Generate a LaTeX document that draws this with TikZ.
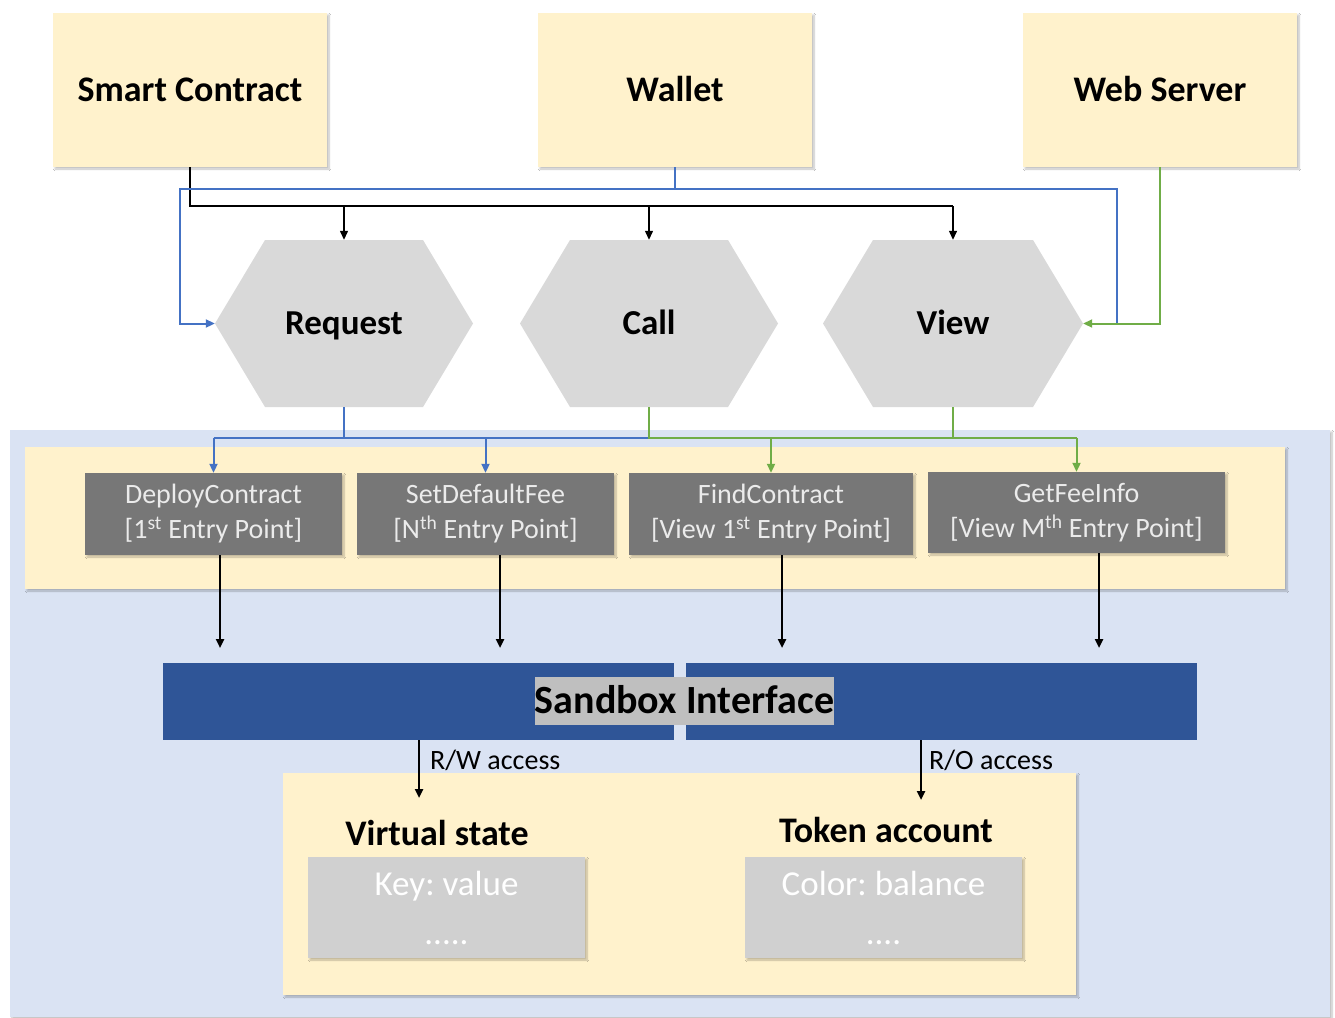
\documentclass[tikz,border=0pt]{standalone}
\usepackage{fontspec}
\setmainfont{Carlito}
\usetikzlibrary{arrows.meta,shadows.blur}

\definecolor{boxyellow}{HTML}{FFF2CC}
\definecolor{sandblue}{HTML}{DAE3F3}
\definecolor{barblue}{HTML}{2F5597}
\definecolor{epgray}{HTML}{777777}
\definecolor{hexgray}{HTML}{D9D9D9}
\definecolor{kvgray}{HTML}{D0D0D0}
\definecolor{lblgray}{HTML}{BFBFBF}
\definecolor{lineblue}{HTML}{4472C4}
\definecolor{linegreen}{HTML}{70AD47}

\tikzset{
  softshadow/.style={blur shadow={shadow xshift=2pt, shadow yshift=-2pt, shadow blur steps=6, shadow opacity=25}},
  client/.style={fill=boxyellow, minimum width=274pt, minimum height=154pt, inner sep=0pt,
    text height=23pt, text depth=0pt,
    softshadow, font=\fontsize{36}{42}\selectfont\bfseries},
  hexa/.style={minimum width=258pt, minimum height=167pt, inner sep=0pt,
    text height=22.4pt, text depth=0pt,
    font=\fontsize{35}{40}\selectfont\bfseries,
    path picture={\fill[hexgray]
      ([xshift=50pt]path picture bounding box.north west) --
      ([xshift=-50pt]path picture bounding box.north east) --
      (path picture bounding box.east) --
      ([xshift=-50pt]path picture bounding box.south east) --
      ([xshift=50pt]path picture bounding box.south west) --
      (path picture bounding box.west) -- cycle;}},
  entrybox/.style={fill=epgray, text=white!92!black, inner sep=0pt, minimum height=82pt,
    align=center, softshadow, font=\fontsize{28}{35}\selectfont},
  panel/.style={fill=boxyellow, inner sep=0pt, softshadow},
  barhalf/.style={fill=barblue, minimum width=511pt, minimum height=77pt, inner sep=0pt},
  storebox/.style={fill=kvgray, minimum width=277pt, minimum height=101pt, inner sep=0pt,
    text=white, align=center, font=\fontsize{35}{49}\selectfont},
  heading/.style={font=\fontsize{36}{42}\selectfont\bfseries},
  access/.style={font=\fontsize{28}{32}\selectfont, anchor=west, inner sep=0pt},
  tip/.style={-{Triangle[width=8pt,length=9pt]}},
  blackline/.style={black, line width=1.3pt},
  blueline/.style={lineblue, line width=2pt},
  greenline/.style={linegreen, line width=2pt},
  downline/.style={black, line width=2.4pt}
}

\begin{document}
\frenchspacing
\begin{tikzpicture}[x=1pt, y=-1pt]
\useasboundingbox (0,0) rectangle (1335,1017);
\fill[white] (0,0) rectangle (1335,1017);

% sandbox region and the entry-point panel
\node[fill=sandblue, minimum width=1320pt, minimum height=587pt, inner sep=0pt, softshadow] (sbx) at (670,723.5) {};
\node[panel, minimum width=1260pt, minimum height=142pt] (eppanel) at (655,518) {};

% clients
\node[client] (sc)  at (190,90)  {Smart Contract};
\node[client] (wal) at (675,90)  {Wallet};
\node[client] (web) at (1160,90) {Web Server};

% call kinds
\node[hexa] (req)  at (344,323.5) {Request};
\node[hexa] (call) at (649,323.5) {Call};
\node[hexa, minimum width=260pt] (view) at (953,323.5) {View};

% entry points
\node[entrybox, minimum width=257pt] (ep1) at (213.5,514) {DeployContract\\{}[1\textsuperscript{st} Entry Point]};
\node[entrybox, minimum width=257pt] (ep2) at (485.5,514) {SetDefaultFee\\{}[N\textsuperscript{th} Entry Point]};
\node[entrybox, minimum width=284pt] (ep3) at (771,514) {FindContract\\{}[View 1\textsuperscript{st} Entry Point]};
\node[entrybox, minimum width=297pt, minimum height=81pt] (ep4) at (1076.5,512.5) {GetFeeInfo\\{}[View M\textsuperscript{th} Entry Point]};

% sandbox interface bar
\node[barhalf] (sbl) at (418.5,701.5) {};
\node[barhalf] (sbr) at (941.5,701.5) {};
\node[fill=lblgray, minimum width=299pt, minimum height=48pt, inner sep=0pt,
      text height=25.6pt, text depth=0pt,
      font=\fontsize{40}{44}\selectfont\bfseries] (sbi) at (684.5,701) {Sandbox Interface};

% state storage
\node[panel, minimum width=793pt, minimum height=222pt] (store) at (679.5,884) {};
\node[heading] (vs) at (437,833) {Virtual state};
\node[heading] (ta) at (886,830) {Token account};
\node[storebox, softshadow] (kv) at (446.5,907.5) {Key: value\\.....};
\node[storebox, softshadow] (cb) at (883.5,907.5) {Color: balance\\....};

% connectors from the clients
\coordinate (blk)   at (0,206);
\coordinate (bluel) at (180,189);
\coordinate (bluer) at (1117,189);
\draw[blackline] (sc.south) |- (view.north |- blk);
\draw[blackline,tip] (req.north |- blk) -- (req.north);
\draw[blackline,tip] (call.north |- blk) -- (call.north);
\draw[blackline,tip] (view.north |- blk) -- (view.north);
\draw[blueline,tip] (wal.south) |- (bluel) |- (req.west);
\draw[blueline] (wal.south |- bluel) -- (bluer) -- (bluer |- view.east);
\draw[greenline,tip] (web.south) |- (view.east);

% connectors into the entry points
\coordinate (mid) at (0,438);
\draw[blueline] (req.south) -- (req.south |- mid);
\draw[blueline] (ep1.north |- mid) -- (call.south |- mid);
\draw[blueline,tip] (ep1.north |- mid) -- (ep1.north);
\draw[blueline,tip] (ep2.north |- mid) -- (ep2.north);
\draw[greenline] (call.south) -- (call.south |- mid) -- (ep4.north |- mid);
\draw[greenline, line width=1.5pt] (view.south) -- (view.south |- mid);
\draw[greenline,tip] (ep3.north |- mid) -- (ep3.north);
\draw[greenline,tip] (ep4.north |- mid) -- (ep4.north);

% entry points down to the sandbox interface
\coordinate (d1) at (220,648);
\coordinate (d2) at (500,648);
\coordinate (d3) at (782,648);
\coordinate (d4) at (1099,648);
\draw[downline,tip] (ep1.south -| d1) -- (d1);
\draw[downline,tip] (ep2.south -| d2) -- (d2);
\draw[downline,tip] (ep3.south -| d3) -- (d3);
\draw[downline,tip] (ep4.south -| d4) -- (d4);

% sandbox interface down to the state
\coordinate (rw) at (419,798);
\coordinate (ro) at (921,800);
\draw[downline,tip] (sbl.south -| rw) -- (rw);
\draw[downline,tip] (sbr.south -| ro) -- (ro);
\node[access] (rwl) at (430,760) {R/W access};
\node[access] (rol) at (929,760) {R/O access};
\end{tikzpicture}
\end{document}
